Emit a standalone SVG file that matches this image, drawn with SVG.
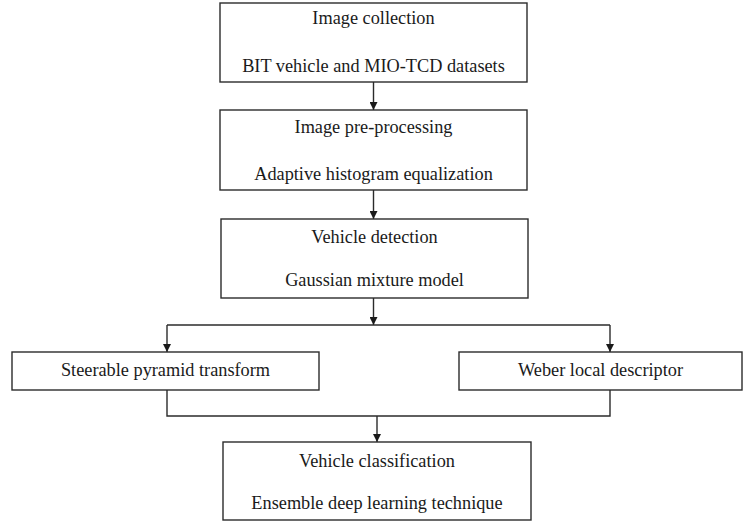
<svg xmlns="http://www.w3.org/2000/svg" width="755" height="523" viewBox="0 0 755 523">
<style>
.box{fill:#fff;stroke:#2b2b2b;stroke-width:1.4}
.t{font-family:"Liberation Serif","Times New Roman",serif;font-size:18.3px;fill:#1a1a1a;text-anchor:middle}
.c{fill:none;stroke:#2b2b2b;stroke-width:1.4}
</style>
<defs>
<marker id="ah" viewBox="0 0 10 10" refX="10" refY="5" markerWidth="8" markerHeight="8" markerUnits="userSpaceOnUse" orient="auto">
<path d="M0,0 L10,5 L0,10 z" fill="#1a1a1a"/>
</marker>
</defs>
<rect width="755" height="523" fill="#fff"/>
<g id="connectors">
<line class="c" x1="373.5" y1="82" x2="373.5" y2="110" marker-end="url(#ah)"/>
<line class="c" x1="373.5" y1="190" x2="373.5" y2="219" marker-end="url(#ah)"/>
<line class="c" x1="373.5" y1="298" x2="373.5" y2="325" marker-end="url(#ah)"/>
<line class="c" x1="167" y1="325" x2="610" y2="325"/>
<line class="c" x1="167" y1="325" x2="167" y2="352" marker-end="url(#ah)"/>
<line class="c" x1="610" y1="325" x2="610" y2="352" marker-end="url(#ah)"/>
<polyline class="c" points="167,390 167,416 610,416 610,390"/>
<line class="c" x1="377" y1="416" x2="377" y2="442" marker-end="url(#ah)"/>
</g>
<g id="n1">
<rect class="box" x="220" y="3" width="307" height="79"/>
<text class="t" x="373.5" y="24">Image collection</text>
<text class="t" x="373.5" y="72">BIT vehicle and MIO-TCD datasets</text>
</g>
<g id="n2">
<rect class="box" x="220" y="110" width="307" height="80"/>
<text class="t" x="373.5" y="133">Image pre-processing</text>
<text class="t" x="373.5" y="180">Adaptive histogram equalization</text>
</g>
<g id="n3">
<rect class="box" x="221" y="219" width="307" height="79"/>
<text class="t" x="374.5" y="243">Vehicle detection</text>
<text class="t" x="374.5" y="286">Gaussian mixture model</text>
</g>
<g id="n4">
<rect class="box" x="12" y="352" width="307" height="38"/>
<text class="t" x="165.5" y="376">Steerable pyramid transform</text>
</g>
<g id="n5">
<rect class="box" x="459" y="352" width="283" height="38"/>
<text class="t" x="600.5" y="376">Weber local descriptor</text>
</g>
<g id="n6">
<rect class="box" x="223" y="442" width="308" height="78"/>
<text class="t" x="377" y="467">Vehicle classification</text>
<text class="t" x="377" y="509">Ensemble deep learning technique</text>
</g>
</svg>
